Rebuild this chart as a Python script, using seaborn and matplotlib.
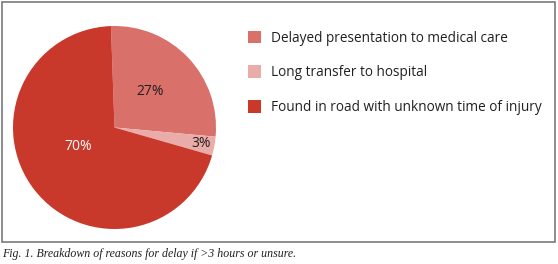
import numpy as np
import matplotlib
matplotlib.use("Agg")
import matplotlib.pyplot as plt
from matplotlib.patches import Rectangle, Patch
import seaborn as sns

categories = ["Delayed presentation to medical care",
              "Long transfer to hospital",
              "Found in road with unknown time of injury"]
values = [27, 3, 70]
pct_labels = ["27%", "3%", "70%"]
caption = "Fig. 1. Breakdown of reasons for delay if >3 hours or unsure."

colors = ["#d9706a", "#e9aca8", "#c8382b"]
label_colors = ["#231f20", "#231f20", "white"]
label_dist = [0.51, 0.87, 0.40]

sns.set_style("white")
plt.rcParams["font.family"] = ["Open Sans", "DejaVu Sans"]

W, H = 558, 264
fig = plt.figure(figsize=(W / 100, H / 100), dpi=100)

# border box
fig.patches.append(Rectangle((1.5 / W, 1 - 242 / H), (555 - 1.5) / W, (242 - 1.5) / H,
                             transform=fig.transFigure, fill=False,
                             edgecolor="#7a7a7a", linewidth=1.2))

cx, cy, r = 114.5, 127.5, 101.5
ax = fig.add_axes([(cx - r) / W, 1 - (cy + r) / H, 2 * r / W, 2 * r / H])
wedges, _ = ax.pie(values, colors=colors, startangle=92, counterclock=False,
                   radius=1.0, wedgeprops=dict(linewidth=0))
ax.set_xlim(-1, 1)
ax.set_ylim(-1, 1)
ax.set_aspect("equal")
ax.axis("off")

for w, txt, c, d in zip(wedges, pct_labels, label_colors, label_dist):
    ang = np.deg2rad((w.theta1 + w.theta2) / 2)
    if txt == "70%":
        ang = np.deg2rad(208)
    ax.text(d * np.cos(ang) - (0.015 if txt == "27%" else 0), d * np.sin(ang), txt,
            ha="center", va="center", fontsize=10, color=c)

handles = [Patch(facecolor=c, edgecolor="none") for c in colors]
fig.legend(handles, categories, loc="upper left",
           bbox_to_anchor=(247.5 / W, 1 - 30.5 / H), frameon=False,
           fontsize=9.85, handlelength=1.02, handleheight=1.02,
           handletextpad=0.72, labelspacing=1.45, borderpad=0, borderaxespad=0,
           labelcolor="#231f20")

fig.text(2 / W, 1 - 254 / H, caption, ha="left", va="center",
         fontsize=8.6, style="italic", family=["Liberation Serif", "DejaVu Serif"],
         color="#231f20")

fig.savefig("out.png", dpi=100)
